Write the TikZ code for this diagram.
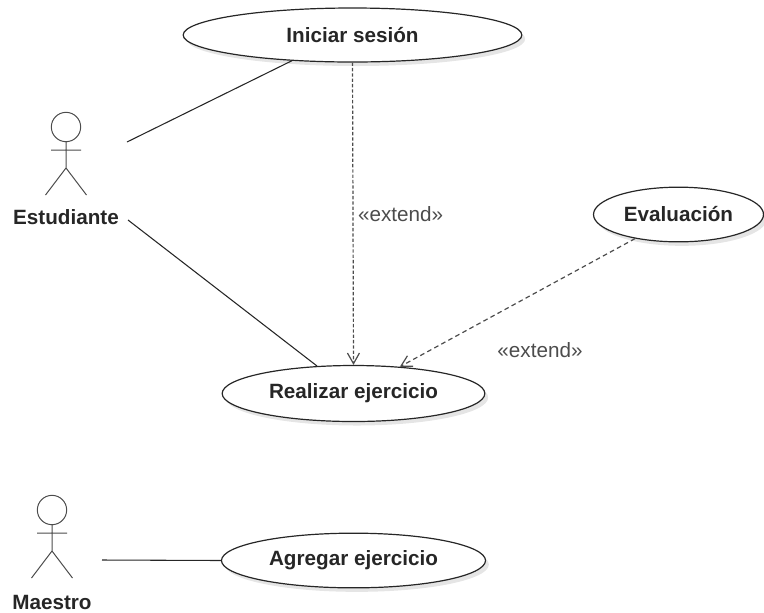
\documentclass[tikz,border=0pt]{standalone}
\usepackage{fontspec}
\setmainfont{Liberation Sans}
\usetikzlibrary{arrows.meta,shapes.geometric,shadows}

\tikzset{
  usecase/.style={ellipse, draw=black!85, line width=0.9pt, fill=white, inner sep=0pt,
    font=\fontsize{15.5pt}{18pt}\selectfont\bfseries, text=black!85,
    drop shadow={shadow xshift=2.5pt, shadow yshift=-3pt, fill=black!10, opacity=1}},
  assoc/.style={draw=black!85, line width=0.8pt},
  extend/.style={draw=black!70, line width=0.9pt, dash pattern=on 2.5pt off 1.5pt,
    -{Straight Barb[length=8pt,width=9pt]}},
  stereo/.style={text=black!70, font=\fontsize{15.5pt}{18pt}\selectfont},
  actorname/.style={text=black!85, font=\fontsize{15.5pt}{18pt}\selectfont\bfseries},
  actor/.pic={
    \draw[black!70, line width=0.75pt] (0,0) circle[radius=11pt]
      (-15,23) -- (15,23) (0,15) -- (0,41) (-20.5,68) -- (0,41) -- (20.5,68);
  }
}

\begin{document}
\begin{tikzpicture}[x=0.75pt, y=-0.75pt]
  \useasboundingbox (0,0) rectangle (764,612);

  % casos de uso
  \node[usecase, minimum width=254pt, minimum height=40.5pt] (ini) at (352.5,35) {Iniciar sesión};
  \node[usecase, minimum width=197pt, minimum height=42pt] (rea) at (353.5,393.5) {Realizar ejercicio};
  \node[usecase, minimum width=127.5pt, minimum height=41pt] (eva) at (678.5,214.5) {Evaluación};
  \node[usecase, minimum width=198pt, minimum height=41pt] (agr) at (353.5,560.5) {Agregar ejercicio};

  % actores
  \pic at (66,127) {actor};
  \node[actorname] (est) at (66,217) {Estudiante};
  \pic at (52,510) {actor};
  \node[actorname] (mae) at (52,602) {Maestro};

  \coordinate (est-a) at (127,142);
  \coordinate (est-b) at (128,220);
  \coordinate (mae-a) at (102,560);

  % asociaciones
  \draw[assoc] (est-a) -- (ini.203);
  \draw[assoc] (est-b) -- (rea.143);
  \draw[assoc] (mae-a) -- (agr.west);

  % extend
  \draw[extend] (ini.south) -- node[stereo, right]{«extend»} (rea.north);
  \draw[extend, dash pattern=on 3.5pt off 2.5pt] (eva.209) -- (rea.30);
  \node[stereo] (ext2) at (540,350) {«extend»};
\end{tikzpicture}
\end{document}
